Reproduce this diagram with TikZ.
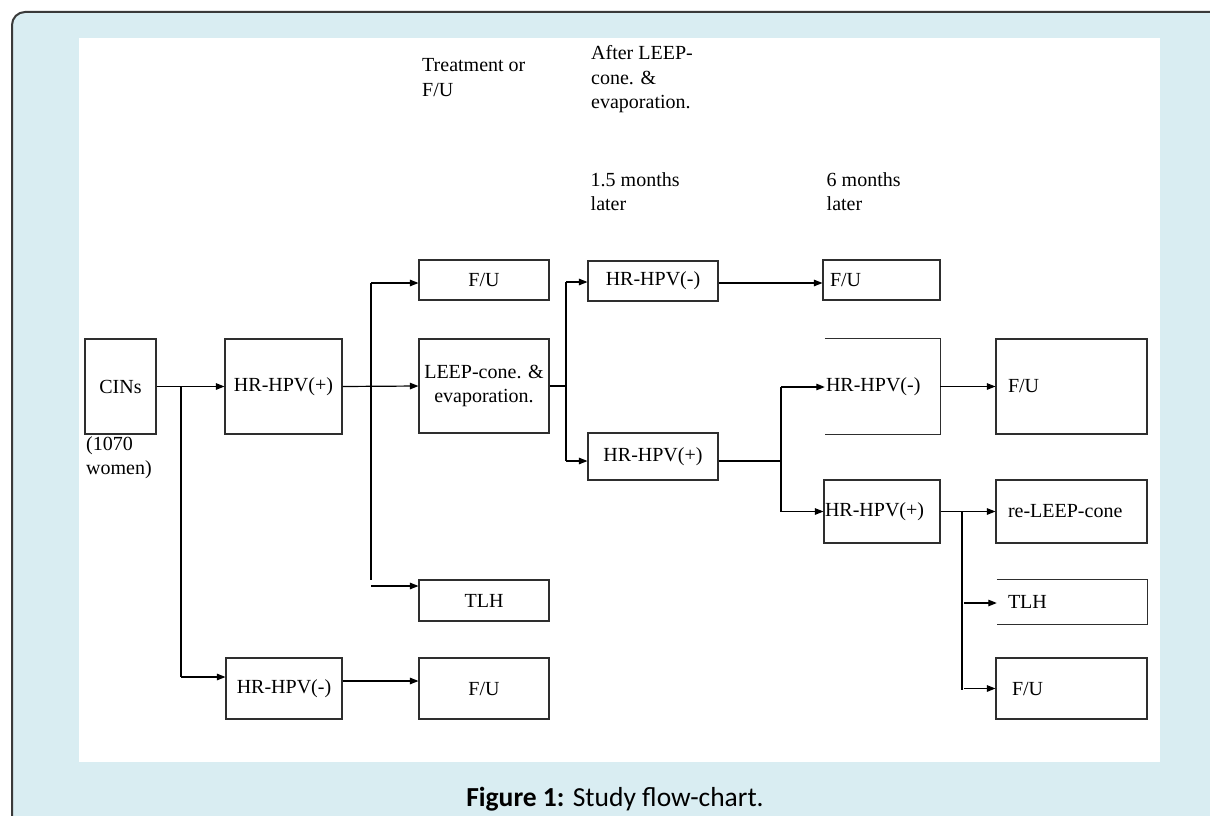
\documentclass[tikz,border=0pt]{standalone}
\usepackage{fontspec}
\setmainfont{Liberation Serif}
\newfontfamily\capfont{Carlito}
\usetikzlibrary{arrows.meta,calc}
\definecolor{bgblue}{HTML}{D9EDF2}
\definecolor{framegray}{HTML}{3A3A3A}
\definecolor{boxgray}{HTML}{2E2E2E}
\begin{document}
\begin{tikzpicture}[x=1pt,y=-1pt,
  every node/.style={font=\fontsize{20}{24.5}\selectfont},
  box/.style={draw=boxgray, line width=1.1pt, inner sep=0pt, align=center},
  openbox/.style={draw=none, inner sep=0pt},
  boxline/.style={draw=boxgray, line width=1.1pt},
  ln/.style={line width=1.2pt, black},
  arr/.style={ln, -{Triangle[length=8.5pt,width=6.5pt]}},
  head/.style={anchor=base west, align=left, inner sep=0pt}
]
\useasboundingbox (0,0) rectangle (1210,816);
\begin{scope}
  \clip (0,0) rectangle (1210,816);
  \draw[fill=bgblue, draw=framegray, line width=2pt, rounded corners=13pt] (12,12) rectangle (1240,850);
\end{scope}
\fill[white] (79,38) rectangle (1160,762);

% headers (anchor = baseline of the last line)
\node[head] (h1) at (422,96.2) {Treatment or\\F/U};
\node[head] (h2) at (591,108.5) {After LEEP-\\cone. \&\\evaporation.};
\node[head] (h3) at (590.5,210.5) {1.5 months\\later};
\node[head] (h4) at (826.5,210.5) {6 months\\later};

% column 0/1
\node[box, minimum width=71pt, minimum height=95pt] (cins) at (120.5,386.5) {CINs};
\node[head] (women) at (86,474.5) {(1070\\women)};
\node[box, minimum width=117pt, minimum height=95pt] (hrp1) at (283.5,386.5) {HR-HPV(+)};
\node[box, minimum width=116pt, minimum height=61pt] (hrm1) at (284,688.5) {HR-HPV(-)};

% column 2
\node[box, minimum width=130pt, minimum height=40pt] (fu1) at (484,280) {F/U};
\node[box, minimum width=130pt, minimum height=94pt] (leep) at (484,386) {LEEP-cone. \&\\evaporation.};
\node[box, minimum width=130pt, minimum height=41pt] (tlh1) at (484,600.5) {TLH};
\node[box, minimum width=130pt, minimum height=61pt] (fu2) at (484,688.5) {F/U};

% column 3
\node[box, minimum width=130pt, minimum height=40pt] (hrm2) at (653,281) {HR-HPV(-)};
\node[box, minimum width=130pt, minimum height=47pt] (hrp2) at (653,456.5) {HR-HPV(+)};

% column 4
\node[box, minimum width=117pt, minimum height=40pt, text width=103pt, inner xsep=7pt, align=left] (fu3) at (881.5,280) {F/U};
\node[openbox, minimum width=115pt, minimum height=95pt, text width=113pt, inner xsep=1pt, align=left] (hrm3) at (882.5,386.5) {HR-HPV(-)};
\draw[boxline] (hrm3.north west) -- (hrm3.north east) -- (hrm3.south east) -- (hrm3.south west);
\node[box, minimum width=116pt, minimum height=63pt, text width=114pt, inner xsep=1pt, align=left] (hrp3) at (882,511.5) {HR-HPV(+)};

% column 5
\node[box, minimum width=151pt, minimum height=95pt, text width=127pt, inner xsep=12pt, align=left] (fu4) at (1071.5,386.5) {F/U};
\node[box, minimum width=151pt, minimum height=63pt, text width=127pt, inner xsep=12pt, align=left] (releep) at (1071.5,511.5) {re-LEEP-cone};
\node[openbox, minimum width=150pt, minimum height=44pt, text width=128pt, inner xsep=11pt, align=left] (tlh2) at (1072,602) {TLH};
\draw[boxline] (tlh2.north west) -- (tlh2.north east) -- (tlh2.south east) -- (tlh2.south west);
\node[box, minimum width=151pt, minimum height=61pt, text width=119pt, inner xsep=16pt, align=left] (fu5) at (1071.5,688.5) {F/U};

% junction coordinates
\coordinate (j1) at (181,386.5);
\coordinate (j1b) at (181,677);
\coordinate (j2t) at (371,283);
\coordinate (j2b) at (371,580);
\coordinate (j2c) at (371,586);
\coordinate (j3t) at (566,282);
\coordinate (j3b) at (566,461);
\coordinate (j4) at (781,461);
\coordinate (j4t) at (781,387);
\coordinate (j4b) at (781,511.5);
\coordinate (j5t) at (962,511.5);
\coordinate (j5b) at (962,690);
\coordinate (j5c) at (964,603);
\coordinate (j5d) at (964,688.5);

% connectors
\draw[arr] (cins.east) -- (hrp1.west);
\draw[ln] (j1) -- (j1b);
\draw[arr] (j1b) -- (j1b -| hrm1.west);
\draw[arr] (hrp1.east) -- (leep.west);
\draw[ln] (j2t) -- (j2b);
\draw[arr] (j2t) -- (j2t -| fu1.west);
\draw[arr] (j2c) -- (j2c -| tlh1.west);
\draw[arr] ([yshift=7.5pt]hrm1.east) -- ([yshift=7.5pt]fu2.west);

\draw[ln] (leep.east) -- (leep.east -| j3t);
\draw[ln] (j3t) -- (j3b);
\draw[arr] (j3t) -- (j3t -| hrm2.west);
\draw[arr] (j3b) -- (j3b -| hrp2.west);

\draw[arr] (hrm2.east |- j2t) -- (j2t -| fu3.west);
\draw[ln] (hrp2.east |- j4) -- (j4);
\draw[ln] (j4t) -- (j4b);
\draw[arr] (j4t) -- (j4t -| hrm3.west);
\draw[arr] (j4b) -- (j4b -| hrp3.west);

\draw[arr] (hrm3.east) -- (fu4.west);
\draw[ln] (hrp3.east) -- (j5t) -- (j5b);
\draw[arr] (j5t) -- (releep.west);
\draw[arr] (j5c) -- (j5c -| tlh2.west);
\draw[arr] (j5d) -- (j5d -| fu5.west);

% caption
\node[font=\capfont\fontsize{27.5}{32}\selectfont, anchor=base, inner sep=0pt] (cap) at (615,806) {\textbf{Figure 1:} Study flow-chart.};
\end{tikzpicture}
\end{document}
